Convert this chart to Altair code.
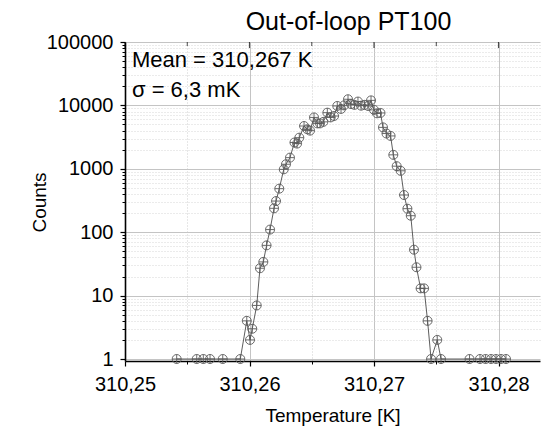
import altair as alt
import pandas as pd

temps = [310.25415, 310.25576, 310.25629, 310.25683, 310.25785, 310.25926,
         310.25978, 310.26004, 310.26022, 310.26058, 310.26084, 310.26111,
         310.26137, 310.26165, 310.26197, 310.26213, 310.26239, 310.26275,
         310.26293, 310.26325, 310.26361, 310.26382, 310.26400, 310.26438,
         310.26464, 310.26486, 310.26518, 310.26545, 310.26566, 310.26593,
         310.26625, 310.26652, 310.26679, 310.26705, 310.26735, 310.26759,
         310.26791, 310.26815, 310.26843, 310.26871, 310.26896, 310.26924,
         310.26952, 310.26976, 310.27000, 310.27024, 310.27052, 310.27072,
         310.27100, 310.27133, 310.27155, 310.27182, 310.27214, 310.27241,
         310.27268, 310.27295, 310.27321, 310.27341, 310.27374, 310.27402,
         310.27430, 310.27458, 310.27508, 310.27538, 310.27767, 310.27851,
         310.27896, 310.27940, 310.27980, 310.28020, 310.28060]
counts = [1, 1, 1, 1, 1, 1,
          4, 2, 3, 7, 27, 34,
          62, 110, 238, 310, 486, 980,
          1180, 1500, 2600, 2500, 3100, 4730,
          4200, 4000, 6460, 5200, 5200, 5500,
          7680, 6460, 6800, 9800, 8800, 10000,
          12500, 10500, 10200, 11500, 9900, 10200,
          9800, 12000, 8500, 7500, 7600, 4500,
          3600, 3300, 1660, 1100, 930, 386,
          235, 182, 53, 28, 13, 13,
          4, 1, 2, 1, 1, 1,
          1, 1, 1, 1, 1]

x_major = [310.25, 310.26, 310.27, 310.28]
x_minor = [310.255, 310.265, 310.275]
y_major = [1, 10, 100, 1000, 10000, 100000]
y_minor = [m * 10 ** e for e in range(0, 5) for m in range(2, 10)]

title_text = "Out-of-loop PT100"
x_title = "Temperature [K]"
y_title = "Counts"
ann_text = ["Mean = 310,267 K", "σ = 6,3 mK"]
ann_x = [310.25056, 310.25056]
ann_y = [40000, 13500]

FONT = "Liberation Sans"

df = pd.DataFrame({"T": temps, "N": counts})
ann = pd.DataFrame({"T": ann_x, "N": ann_y, "label": ann_text})
tmaj = pd.DataFrame({"T": x_major})
tmin = pd.DataFrame({"T": x_minor})

xscale = alt.Scale(domain=[310.25, 310.28333], nice=False, zero=False)
yscale = alt.Scale(type="log", domain=[0.93, 100000], nice=False)

common_lbl = dict(labelFont=FONT, labelFontSize=20, labelColor="black",
                  titleFont=FONT, titleFontSize=19, titleFontWeight="normal",
                  titleColor="black", labelFlush=False, labelOverlap=False)

xmaj_axis = alt.Axis(orient="bottom", values=x_major,
                     labelExpr="replace(format(datum.value, '.2f'), '.', ',')",
                     title=x_title, grid=True, gridColor="#c4c4c4", gridWidth=1,
                     tickSize=5, tickColor="black", tickWidth=1.2,
                     domainColor="black", domainWidth=1.6,
                     labelPadding=8, titlePadding=12, **common_lbl)
xmin_axis = alt.Axis(orient="bottom", values=x_minor, labels=False, title=None,
                     grid=True, gridColor="#cfcfcf", gridDash=[1, 2], gridWidth=1,
                     tickSize=3, tickColor="black", tickWidth=1, domain=False)
ymaj_axis = alt.Axis(orient="left", values=y_major, labelExpr="format(datum.value, 'd')",
                     title=y_title, grid=True, gridColor="#c4c4c4", gridWidth=1,
                     tickSize=5, tickColor="black", tickWidth=1.2,
                     domainColor="black", domainWidth=1.6,
                     labelPadding=7, titleX=-76, titleY=160, **common_lbl)
ymin_axis = alt.Axis(orient="left", values=y_minor, labels=False, title=None,
                     grid=True, gridColor="#d6d6d6", gridDash=[1, 2], gridWidth=1,
                     tickSize=3, tickColor="black", tickWidth=1, domain=False)

line = alt.Chart(df).mark_line(color="#333333", strokeWidth=0.8).encode(
    x=alt.X("T:Q", scale=xscale, axis=xmaj_axis),
    y=alt.Y("N:Q", scale=yscale, axis=ymaj_axis),
)
circles = alt.Chart(df).mark_point(shape="circle", size=81, filled=False,
                                   color="#5a5a5a", strokeWidth=0.9, opacity=1).encode(
    x=alt.X("T:Q", scale=xscale, axis=xmin_axis),
    y=alt.Y("N:Q", scale=yscale, axis=ymin_axis),
)
crosses = alt.Chart(df).mark_point(shape="M-1,0L1,0M0,-1L0,1", size=81, filled=False,
                                   color="#5a5a5a", strokeWidth=0.9, opacity=1).encode(
    x=alt.X("T:Q", scale=xscale, axis=None),
    y=alt.Y("N:Q", scale=yscale, axis=None),
)
top_major = alt.Chart(tmaj).mark_tick(orient="vertical", size=6, thickness=1.2,
                                      color="black").encode(
    x=alt.X("T:Q", scale=xscale, axis=None),
    y=alt.value(3),
)
top_minor = alt.Chart(tmin).mark_tick(orient="vertical", size=4, thickness=1,
                                      color="black").encode(
    x=alt.X("T:Q", scale=xscale, axis=None),
    y=alt.value(2),
)
text = alt.Chart(ann).mark_text(align="left", baseline="alphabetic", font=FONT,
                                fontSize=22, color="black").encode(
    x=alt.X("T:Q", scale=xscale, axis=None),
    y=alt.Y("N:Q", scale=yscale, axis=None),
    text="label:N",
)

chart = alt.layer(line, circles, crosses, top_major, top_minor, text).resolve_axis(
    x="independent", y="independent"
).properties(
    width=415, height=319,
    autosize=alt.AutoSizeParams(type="none"),
    padding={"left": 117, "top": 34, "right": 2, "bottom": 66},
    background="white",
    title=alt.Title(title_text, font=FONT, fontSize=25, fontWeight="normal",
                    color="black", anchor="middle", dx=16, frame="group",
                    baseline="alphabetic", offset=0, dy=23),
).configure_view(stroke=None)

chart.save("out.html", embed_options={"renderer": "svg", "actions": False})
